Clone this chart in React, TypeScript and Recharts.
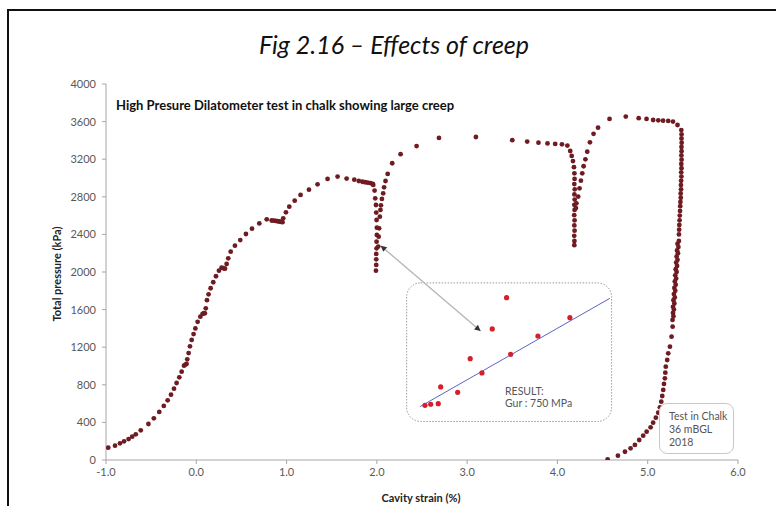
import React from "react";
import {
  ReferenceArea,
  ReferenceLine,
  Scatter,
  ScatterChart,
  XAxis,
  YAxis,
} from "recharts";

// Pressuremeter loading curve as [strain %, pressure kPa].
const LOADING_1: [number, number][] = [
  [-0.975, 131], [-0.9, 152], [-0.845, 177], [-0.8, 199], [-0.75, 223], [-0.71, 248],
  [-0.67, 273], [-0.615, 316], [-0.53, 383], [-0.47, 443], [-0.41, 511], [-0.36, 575],
  [-0.317, 635], [-0.28, 695], [-0.247, 759], [-0.218, 819], [-0.188, 880], [-0.162, 940],
  [-0.136, 1003], [-0.12, 1015], [-0.108, 1022], [-0.1, 1071], [-0.085, 1138], [-0.07, 1209],
  [-0.051, 1277], [-0.03, 1340], [-0.01, 1400], [0.015, 1470], [0.045, 1525], [0.07, 1555],
  [0.085, 1562], [0.095, 1560], [0.105, 1614], [0.118, 1700], [0.136, 1763], [0.159, 1827],
  [0.188, 1891], [0.218, 1955], [0.251, 2014], [0.28, 2046], [0.3, 2040], [0.318, 2035],
  [0.336, 2085], [0.354, 2145], [0.381, 2216], [0.428, 2280], [0.487, 2340], [0.55, 2404],
  [0.617, 2461], [0.698, 2517], [0.78, 2560], [0.835, 2548], [0.86, 2546], [0.88, 2543],
  [0.9, 2540], [0.92, 2537], [0.94, 2533], [0.955, 2530], [0.963, 2571], [0.993, 2635],
  [1.03, 2695], [1.09, 2759], [1.155, 2820], [1.248, 2876], [1.343, 2933], [1.454, 2990],
  [1.565, 3015], [1.665, 2994], [1.75, 2982], [1.8, 2968], [1.84, 2960], [1.87, 2955],
  [1.9, 2950], [1.93, 2945], [1.955, 2938],
];

// first creep hold near 2 % strain, then reload
const CREEP_1: [number, number][] = [
  [1.96, 2926], [1.975, 2866], [1.982, 2784], [1.99, 2713], [1.993, 2632], [1.997, 2553],
  [2.0, 2472], [2.0, 2394], [1.997, 2323], [1.997, 2252], [1.993, 2192], [1.993, 2135],
  [1.993, 2075], [1.99, 2014],
  [2.015, 2270], [2.02, 2376], [2.025, 2465], [2.033, 2589], [2.04, 2660], [2.045, 2709],
  [2.056, 2777], [2.07, 2837], [2.08, 2901], [2.096, 2968], [2.12, 3043], [2.17, 3157],
  [2.263, 3253], [2.44, 3340], [2.688, 3426], [3.097, 3436],
];

// second creep hold near 4.2 %
const CREEP_2: [number, number][] = [
  [3.5, 3402], [3.665, 3387], [3.79, 3376], [3.89, 3368], [3.975, 3363], [4.05, 3358],
  [4.11, 3345], [4.142, 3287], [4.158, 3235], [4.172, 3180], [4.183, 3115], [4.188, 3050],
  [4.19, 2990], [4.187, 2935], [4.192, 2880], [4.188, 2825], [4.191, 2770], [4.187, 2715],
  [4.19, 2660], [4.186, 2605], [4.19, 2550], [4.187, 2495], [4.19, 2440], [4.186, 2385],
  [4.188, 2330], [4.187, 2285],
  [4.205, 2680], [4.21, 2731], [4.23, 2802], [4.245, 2890], [4.26, 2972], [4.275, 3050],
  [4.29, 3125], [4.31, 3199], [4.33, 3280], [4.36, 3380], [4.4, 3470], [4.45, 3535],
  [4.577, 3628], [4.757, 3653], [4.9, 3636], [4.987, 3628], [5.06, 3617], [5.117, 3614],
  [5.17, 3610], [5.227, 3607], [5.28, 3600], [5.33, 3564],
];

// final hold and unloading
const UNLOADING: [number, number][] = [
  [5.372, 3510], [5.375, 3465], [5.374, 3420], [5.376, 3375], [5.374, 3330], [5.375, 3285],
  [5.373, 3240], [5.375, 3195], [5.372, 3150], [5.374, 3105], [5.371, 3060], [5.373, 3015],
  [5.37, 2970], [5.368, 2925], [5.369, 2880], [5.365, 2835], [5.366, 2790], [5.362, 2745],
  [5.36, 2700], [5.358, 2650], [5.355, 2600], [5.353, 2550], [5.35, 2500], [5.348, 2450],
  [5.346, 2400], [5.345, 2330], [5.33, 2300], [5.34, 2265], [5.325, 2230], [5.335, 2200],
  [5.32, 2165], [5.33, 2130], [5.315, 2100], [5.325, 2065], [5.31, 2030], [5.32, 2000],
  [5.305, 1965], [5.315, 1930], [5.3, 1900], [5.31, 1865], [5.295, 1830], [5.305, 1800],
  [5.29, 1765], [5.3, 1730], [5.285, 1700], [5.295, 1665], [5.28, 1630], [5.29, 1600],
  [5.28, 1565], [5.285, 1530], [5.275, 1490], [5.276, 1418], [5.264, 1312], [5.246, 1206],
  [5.227, 1135], [5.216, 1064], [5.2, 993], [5.195, 929], [5.19, 869], [5.18, 809],
  [5.172, 745], [5.161, 681], [5.15, 620], [5.135, 560], [5.116, 503], [5.09, 450],
  [5.06, 397], [5.032, 348], [4.988, 301], [4.95, 259], [4.906, 213], [4.858, 160],
  [4.81, 124], [4.748, 88], [4.67, 46], [4.556, 7],
];

// inset (creep hold zoom) placed in main chart coordinates
const INSET_POINTS: [number, number][] = [
  [3.437, 1727], [4.138, 1514], [3.278, 1394], [3.784, 1319], [3.482, 1124], [3.034, 1078],
  [3.164, 926], [2.707, 777], [2.895, 720], [2.533, 582], [2.596, 593], [2.68, 599],
];
const INSET_FIT: [number, number][] = [[2.477, 567], [4.581, 1720]];
const INSET_BOX = { x1: 2.33, x2: 4.6, y1: 410, y2: 1884 };
const ARROW: [number, number][] = [[2.042, 2280], [3.149, 1372]];

const X_TICKS = [-1, 0, 1, 2, 3, 4, 5, 6];
const Y_TICKS = [0, 400, 800, 1200, 1600, 2000, 2400, 2800, 3200, 3600, 4000];

const FONT = "Lato, 'Open Sans', sans-serif";
const DOT = "#6e1b22";

const toPts = (arr: [number, number][]) => arr.map(([x, y]) => ({ x, y }));
const mainData = [...LOADING_1, ...CREEP_1, ...CREEP_2, ...UNLOADING].map(([x, y]) => ({ x, y }));

const head = (x: number, y: number, ux: number, uy: number) => {
  const L = 6, W = 3;
  const bx = x - ux * L, by = y - uy * L;
  return `${x},${y} ${bx - uy * W},${by + ux * W} ${bx + uy * W},${by - ux * W}`;
};

const ArrowShape = (p: any) => {
  const { x1, y1, x2, y2 } = p;
  if ([x1, y1, x2, y2].some((v) => v == null || isNaN(v))) return <g />;
  const len = Math.hypot(x2 - x1, y2 - y1);
  const ux = (x2 - x1) / len, uy = (y2 - y1) / len;
  return (
    <g>
      <line x1={x1} y1={y1} x2={x2} y2={y2} stroke="#b4b4b4" strokeWidth={1.3} />
      <polygon points={head(x2, y2, ux, uy)} fill="#333" />
      <polygon points={head(x1, y1, -ux, -uy)} fill="#333" />
    </g>
  );
};

const BoxShape = (p: any) => (
  <rect
    x={p.x}
    y={p.y}
    width={p.width}
    height={p.height}
    rx={14}
    ry={14}
    fill="#fff"
    stroke="#9a9a9a"
    strokeWidth={1}
    strokeDasharray="1.5 1.5"
  />
);

const tick = { fontSize: 11, fill: "#595959", fontFamily: FONT };

export default function App() {
  return (
    <div style={{ position: "absolute", left: 0, top: 0, width: 776, height: 506, overflow: "hidden", background: "#fff" }}>
      <div
        style={{
          position: "absolute", left: 7, top: 9, width: 820, height: 620,
          borderLeft: "2px solid #111", borderTop: "2px solid #111",
        }}
      />
      <div
        style={{
          position: "absolute", left: 6, width: 776, top: 29, textAlign: "center",
          fontFamily: FONT, fontStyle: "italic", fontSize: 25, color: "#111",
        }}
      >
        Fig 2.16 – Effects of creep
      </div>
      <div
        style={{
          position: "absolute", left: 116, top: 97, fontFamily: FONT,
          fontWeight: 700, fontSize: 13, color: "#111", whiteSpace: "nowrap",
        }}
      >
        High Presure Dilatometer test in chalk showing large creep
      </div>
      <div style={{ position: "absolute", left: 0, top: 0 }}>
        <ScatterChart width={776} height={506} margin={{ top: 84, right: 38, bottom: 16, left: 56 }}>
          <XAxis
            type="number"
            dataKey="x"
            domain={[-1, 6]}
            ticks={X_TICKS}
            allowDataOverflow
            tickFormatter={(v: number) => v.toFixed(1)}
            tick={tick}
            tickSize={4}
            tickMargin={4}
            height={30}
            axisLine={{ stroke: "#a6a6a6" }}
            tickLine={{ stroke: "#a6a6a6" }}
          />
          <YAxis
            type="number"
            dataKey="y"
            domain={[0, 4000]}
            ticks={Y_TICKS}
            allowDataOverflow
            tick={tick}
            tickSize={4}
            tickMargin={6}
            width={50}
            axisLine={{ stroke: "#a6a6a6" }}
            tickLine={{ stroke: "#a6a6a6" }}
          />
          <ReferenceArea {...INSET_BOX} shape={BoxShape} />
          <ReferenceLine
            segment={toPts(INSET_FIT)}
            stroke="#5a64c8"
            strokeWidth={1}
          />
          <ReferenceLine segment={toPts(ARROW)} shape={ArrowShape} />
          <Scatter data={toPts(INSET_POINTS)} fill="#d3212b" shape={(p: any) => <circle cx={p.cx} cy={p.cy} r={2.6} fill="#d3212b" />} isAnimationActive={false} />
          <Scatter data={mainData} fill={DOT} shape={(p: any) => <circle cx={p.cx} cy={p.cy} r={2.4} fill={DOT} />} isAnimationActive={false} />
        </ScatterChart>
      </div>
      <div
        style={{
          position: "absolute", left: 56, top: 274, transform: "translate(-50%, -50%) rotate(-90deg)",
          fontFamily: FONT, fontWeight: 700, fontSize: 11, color: "#222", whiteSpace: "nowrap",
        }}
      >
        Total pressure (kPa)
      </div>
      <div
        style={{
          position: "absolute", left: 421, top: 491, transform: "translateX(-50%)",
          fontFamily: FONT, fontWeight: 700, fontSize: 11, lineHeight: "13px", color: "#222", whiteSpace: "nowrap",
        }}
      >
        Cavity strain (%)
      </div>
      <div
        style={{
          position: "absolute", left: 505, top: 385, fontFamily: FONT, fontSize: 10.5,
          color: "#555", lineHeight: "12px",
        }}
      >
        RESULT:
        <br />
        Gur : 750 MPa
      </div>
      <div
        style={{
          position: "absolute", left: 659, top: 403, width: 64, height: 43, paddingLeft: 9, paddingTop: 6,
          border: "1px solid #c8c8c8", borderRadius: 8, fontFamily: FONT, fontSize: 10.5,
          color: "#555", lineHeight: "13px", background: "#fff",
        }}
      >
        Test in Chalk
        <br />
        36 mBGL
        <br />
        2018
      </div>
    </div>
  );
}
